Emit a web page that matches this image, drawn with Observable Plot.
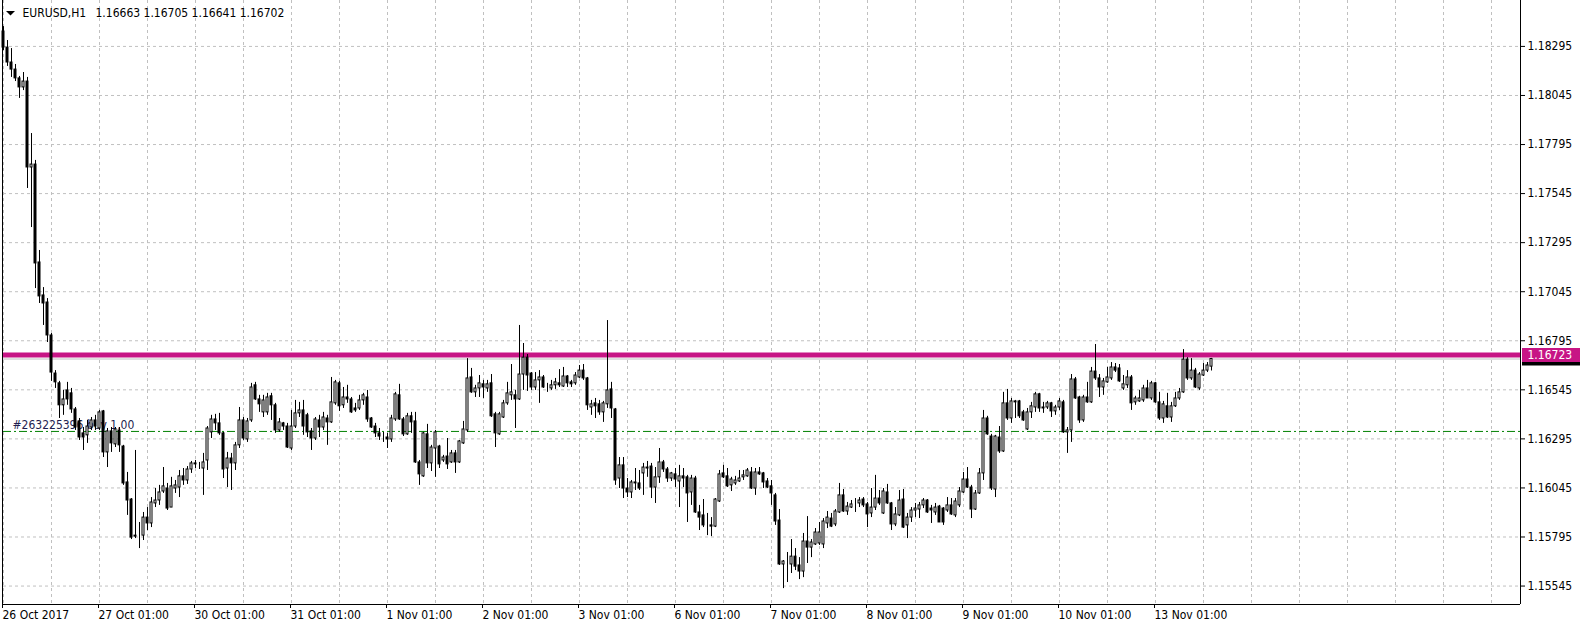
<!DOCTYPE html>
<html>
<head>
<meta charset="utf-8">
<script src="https://cdn.jsdelivr.net/npm/d3@7"></script>
<script src="https://cdn.jsdelivr.net/npm/@observablehq/plot@0.6"></script>
<style>
  html, body { margin: 0; padding: 0; background: #ffffff; }
  #chart { width: 1580px; height: 628px; overflow: hidden; }
</style>
</head>
<body>
<div id="chart"></div>
<script>
// ---- chart text ----
const symbol = "EURUSD";
const timeframe = "H1";
const orderText = "#263225396 buy 1.00";

// ---- x axis: one label every 24 hourly bars ----
const timeTickBars = [0, 24, 48, 72, 96, 120, 144, 168, 192, 216, 240, 264, 288];
const timeLabels = ["26 Oct 2017", "27 Oct 01:00", "30 Oct 01:00", "31 Oct 01:00", "1 Nov 01:00",
  "2 Nov 01:00", "3 Nov 01:00", "6 Nov 01:00", "7 Nov 01:00", "8 Nov 01:00", "9 Nov 01:00",
  "10 Nov 01:00", "13 Nov 01:00"];

// ---- y axis ticks ----
const priceTicks = [1.15545, 1.15795, 1.16045, 1.16295, 1.16545, 1.16795, 1.17045,
  1.17295, 1.17545, 1.17795, 1.18045, 1.18295];

// ---- horizontal levels ----
const levelPrice = 1.16723;   // magenta horizontal line
const orderPrice = 1.16333;   // green dash-dot order line

// ---- hourly OHLC ----
const open = [
1.18371,1.18289,1.18213,1.18177,1.18132,1.18086,1.18116,1.17678,1.17693,1.17194,
1.17026,1.16990,1.16822,1.16628,1.16578,1.16466,1.16542,1.16527,1.16445,1.16384,
1.16323,1.16313,1.16353,1.16389,1.16348,1.16435,1.16226,1.16333,1.16267,1.16338,
1.16256,1.16073,1.15986,1.15802,1.15802,1.15802,1.15894,1.15864,1.15966,1.15981,
1.16027,1.16042,1.15945,1.16042,1.16047,1.16104,1.16083,1.16139,1.16170,1.16165,
1.16144,1.16185,1.16328,1.16394,1.16374,1.16323,1.16144,1.16195,1.16170,1.16262,
1.16389,1.16292,1.16389,1.16568,1.16496,1.16430,1.16430,1.16512,1.16466,1.16338,
1.16374,1.16358,1.16246,1.16358,1.16425,1.16440,1.16415,1.16333,1.16297,1.16389,
1.16353,1.16399,1.16379,1.16476,1.16578,1.16466,1.16506,1.16496,1.16450,1.16450,
1.16491,1.16506,1.16399,1.16358,1.16323,1.16302,1.16302,1.16292,1.16394,1.16517,
1.16394,1.16318,1.16410,1.16384,1.16175,1.16104,1.16318,1.16170,1.16246,1.16256,
1.16185,1.16205,1.16175,1.16221,1.16175,1.16272,1.16338,1.16608,1.16532,1.16552,
1.16573,1.16552,1.16578,1.16420,1.16318,1.16404,1.16476,1.16517,1.16517,1.16496,
1.16623,1.16709,1.16628,1.16557,1.16593,1.16608,1.16557,1.16552,1.16568,1.16578,
1.16562,1.16613,1.16583,1.16578,1.16608,1.16643,1.16603,1.16455,1.16476,1.16471,
1.16430,1.16471,1.16547,1.16445,1.16093,1.16160,1.16042,1.16022,1.16068,1.16068,
1.16119,1.16149,1.16154,1.16047,1.16099,1.16175,1.16139,1.16093,1.16114,1.16078,
1.16104,1.16099,1.16022,1.16093,1.15920,1.15905,1.15854,1.15854,1.15848,1.15976,
1.16119,1.16104,1.16058,1.16068,1.16078,1.16099,1.16104,1.16124,1.16042,1.16124,
1.16119,1.16078,1.16053,1.16007,1.15879,1.15655,1.15660,1.15655,1.15695,1.15650,
1.15619,1.15772,1.15741,1.15757,1.15762,1.15757,1.15864,1.15889,1.15859,1.15920,
1.16007,1.15925,1.15945,1.15961,1.15966,1.15986,1.15961,1.15915,1.15945,1.15991,
1.15915,1.16022,1.15966,1.15859,1.15905,1.15986,1.15854,1.15894,1.15930,1.15935,
1.15956,1.15981,1.15940,1.15920,1.15950,1.15940,1.15930,1.15956,1.15905,1.15956,
1.16022,1.16088,1.16047,1.15935,1.16017,1.16119,1.16399,1.16307,1.16037,1.16302,
1.16231,1.16476,1.16399,1.16481,1.16486,1.16430,1.16343,1.16430,1.16455,1.16522,
1.16455,1.16455,1.16476,1.16435,1.16455,1.16481,1.16328,1.16338,1.16598,1.16506,
1.16389,1.16506,1.16481,1.16638,1.16603,1.16557,1.16583,1.16603,1.16659,1.16654,
1.16552,1.16568,1.16608,1.16481,1.16486,1.16491,1.16552,1.16501,1.16578,1.16481,
1.16399,1.16461,1.16404,1.16461,1.16501,1.16532,1.16699,1.16603,1.16643,1.16552,
1.16618,1.16643,1.16663];

const high = [
1.18396,1.18325,1.18284,1.18203,1.18142,1.18162,1.18137,1.17851,1.17714,1.17255,
1.17066,1.17010,1.16832,1.16643,1.16588,1.16542,1.16583,1.16552,1.16455,1.16399,
1.16353,1.16389,1.16404,1.16415,1.16440,1.16440,1.16348,1.16353,1.16353,1.16353,
1.16262,1.16124,1.15991,1.16236,1.15869,1.15920,1.15945,1.15996,1.16042,1.16058,
1.16149,1.16068,1.16099,1.16083,1.16134,1.16144,1.16154,1.16180,1.16185,1.16175,
1.16221,1.16358,1.16415,1.16420,1.16425,1.16328,1.16226,1.16221,1.16277,1.16455,
1.16404,1.16399,1.16578,1.16583,1.16517,1.16517,1.16527,1.16527,1.16476,1.16399,
1.16379,1.16374,1.16440,1.16491,1.16481,1.16491,1.16425,1.16348,1.16404,1.16415,
1.16430,1.16415,1.16608,1.16593,1.16588,1.16557,1.16568,1.16506,1.16476,1.16517,
1.16527,1.16542,1.16404,1.16374,1.16348,1.16328,1.16323,1.16415,1.16532,1.16573,
1.16404,1.16425,1.16430,1.16430,1.16185,1.16328,1.16369,1.16262,1.16338,1.16262,
1.16211,1.16297,1.16236,1.16236,1.16287,1.16384,1.16704,1.16654,1.16568,1.16618,
1.16593,1.16593,1.16623,1.16430,1.16430,1.16491,1.16583,1.16674,1.16542,1.16873,
1.16781,1.16725,1.16633,1.16633,1.16643,1.16618,1.16578,1.16593,1.16603,1.16648,
1.16659,1.16618,1.16593,1.16633,1.16669,1.16674,1.16608,1.16491,1.16501,1.16491,
1.16486,1.16898,1.16583,1.16450,1.16200,1.16200,1.16093,1.16083,1.16144,1.16134,
1.16170,1.16180,1.16170,1.16149,1.16246,1.16185,1.16149,1.16124,1.16144,1.16160,
1.16144,1.16109,1.16109,1.16104,1.15956,1.15986,1.15915,1.15894,1.15991,1.16134,
1.16160,1.16144,1.16099,1.16104,1.16134,1.16134,1.16144,1.16149,1.16144,1.16149,
1.16124,1.16093,1.16083,1.16017,1.15935,1.15675,1.15716,1.15782,1.15736,1.15690,
1.15813,1.15899,1.15782,1.15838,1.15869,1.15889,1.15925,1.15915,1.15935,1.16068,
1.16037,1.15971,1.15981,1.15991,1.15996,1.15996,1.15971,1.16042,1.16109,1.16032,
1.16042,1.16063,1.15971,1.15945,1.16032,1.16037,1.15915,1.15945,1.15966,1.15971,
1.15991,1.15986,1.15956,1.15966,1.15956,1.15945,1.15996,1.15991,1.15991,1.16047,
1.16124,1.16149,1.16058,1.16032,1.16144,1.16440,1.16410,1.16318,1.16313,1.16358,
1.16532,1.16547,1.16501,1.16491,1.16491,1.16440,1.16450,1.16481,1.16532,1.16527,
1.16481,1.16486,1.16481,1.16466,1.16501,1.16491,1.16353,1.16623,1.16608,1.16512,
1.16517,1.16583,1.16659,1.16776,1.16623,1.16603,1.16659,1.16684,1.16679,1.16674,
1.16618,1.16643,1.16618,1.16512,1.16542,1.16568,1.16593,1.16588,1.16583,1.16532,
1.16486,1.16527,1.16481,1.16532,1.16552,1.16750,1.16709,1.16704,1.16654,1.16633,
1.16679,1.16684,1.16705];

const low = [
1.18274,1.18193,1.18137,1.18116,1.18030,1.18070,1.17571,1.17372,1.17061,1.16985,
1.16873,1.16786,1.16588,1.16552,1.16399,1.16415,1.16466,1.16425,1.16338,1.16287,
1.16236,1.16272,1.16338,1.16338,1.16338,1.16200,1.16149,1.16226,1.16251,1.16226,
1.16058,1.15905,1.15782,1.15787,1.15736,1.15777,1.15828,1.15843,1.15945,1.15956,
1.16017,1.15930,1.15945,1.16017,1.15996,1.16058,1.16063,1.16119,1.16144,1.16139,
1.16007,1.16134,1.16297,1.16338,1.16313,1.16093,1.16047,1.16032,1.16134,1.16246,
1.16287,1.16277,1.16379,1.16491,1.16430,1.16404,1.16415,1.16389,1.16323,1.16328,
1.16338,1.16246,1.16236,1.16348,1.16404,1.16313,1.16302,1.16236,1.16287,1.16302,
1.16338,1.16262,1.16374,1.16466,1.16435,1.16450,1.16476,1.16425,1.16430,1.16440,
1.16466,1.16379,1.16348,1.16302,1.16287,1.16277,1.16246,1.16277,1.16384,1.16389,
1.16307,1.16313,1.16323,1.16170,1.16058,1.16099,1.16144,1.16129,1.16099,1.16144,
1.16175,1.16139,1.16170,1.16119,1.16170,1.16267,1.16328,1.16527,1.16506,1.16506,
1.16501,1.16532,1.16404,1.16251,1.16313,1.16399,1.16466,1.16491,1.16348,1.16491,
1.16542,1.16537,1.16542,1.16542,1.16476,1.16552,1.16532,1.16542,1.16547,1.16557,
1.16557,1.16557,1.16557,1.16568,1.16603,1.16593,1.16440,1.16415,1.16399,1.16415,
1.16379,1.16450,1.16399,1.16058,1.16042,1.15991,1.15996,1.15991,1.16032,1.16032,
1.16007,1.16099,1.15991,1.15966,1.16068,1.16124,1.16073,1.16078,1.16047,1.15945,
1.16047,1.15869,1.15956,1.15915,1.15828,1.15843,1.15802,1.15797,1.15843,1.15971,
1.16093,1.16047,1.16027,1.16058,1.16073,1.16083,1.16099,1.16037,1.16007,1.16109,
1.16042,1.16042,1.15956,1.15854,1.15650,1.15532,1.15563,1.15609,1.15624,1.15578,
1.15588,1.15660,1.15690,1.15752,1.15752,1.15736,1.15838,1.15843,1.15848,1.15915,
1.15920,1.15905,1.15940,1.15920,1.15945,1.15945,1.15843,1.15894,1.15930,1.15956,
1.15910,1.15961,1.15828,1.15848,1.15899,1.15838,1.15787,1.15869,1.15894,1.15889,
1.15940,1.15915,1.15864,1.15905,1.15869,1.15854,1.15920,1.15905,1.15894,1.15945,
1.16017,1.16042,1.15889,1.15930,1.16012,1.16083,1.16313,1.16032,1.15996,1.16221,
1.16226,1.16389,1.16374,1.16399,1.16399,1.16384,1.16338,1.16399,1.16430,1.16430,
1.16425,1.16445,1.16404,1.16415,1.16440,1.16323,1.16221,1.16277,1.16496,1.16374,
1.16379,1.16476,1.16476,1.16593,1.16506,1.16517,1.16578,1.16593,1.16633,1.16583,
1.16542,1.16552,1.16440,1.16466,1.16481,1.16481,1.16501,1.16491,1.16476,1.16389,
1.16374,1.16399,1.16379,1.16455,1.16491,1.16527,1.16593,1.16593,1.16552,1.16542,
1.16613,1.16633,1.16641];

const close = [
1.18289,1.18213,1.18177,1.18132,1.18086,1.18116,1.17678,1.17693,1.17189,1.17021,
1.16985,1.16822,1.16633,1.16583,1.16466,1.16496,1.16496,1.16445,1.16353,1.16302,
1.16302,1.16358,1.16389,1.16358,1.16430,1.16226,1.16333,1.16272,1.16343,1.16262,
1.16068,1.15981,1.15792,1.15797,1.15802,1.15894,1.15864,1.15971,1.15981,1.16022,
1.16053,1.15940,1.16053,1.16058,1.16104,1.16083,1.16139,1.16170,1.16165,1.16165,
1.16175,1.16348,1.16394,1.16374,1.16323,1.16139,1.16195,1.16170,1.16262,1.16389,
1.16297,1.16384,1.16557,1.16496,1.16471,1.16491,1.16506,1.16466,1.16338,1.16379,
1.16358,1.16251,1.16358,1.16425,1.16440,1.16358,1.16328,1.16297,1.16394,1.16353,
1.16404,1.16379,1.16481,1.16583,1.16461,1.16506,1.16496,1.16430,1.16440,1.16491,
1.16517,1.16394,1.16353,1.16323,1.16307,1.16302,1.16292,1.16399,1.16522,1.16394,
1.16318,1.16410,1.16379,1.16175,1.16114,1.16323,1.16170,1.16251,1.16328,1.16165,
1.16200,1.16165,1.16221,1.16175,1.16282,1.16343,1.16603,1.16532,1.16552,1.16578,
1.16557,1.16573,1.16410,1.16323,1.16420,1.16476,1.16527,1.16532,1.16496,1.16623,
1.16709,1.16618,1.16557,1.16593,1.16608,1.16557,1.16557,1.16568,1.16583,1.16568,
1.16613,1.16578,1.16573,1.16618,1.16643,1.16603,1.16466,1.16471,1.16461,1.16430,
1.16476,1.16542,1.16450,1.16083,1.16160,1.16042,1.16022,1.16073,1.16073,1.16042,
1.16149,1.16144,1.16047,1.16099,1.16175,1.16139,1.16093,1.16119,1.16088,1.16104,
1.16093,1.16017,1.16093,1.15920,1.15894,1.15854,1.15854,1.15848,1.15986,1.16114,
1.16099,1.16053,1.16088,1.16083,1.16093,1.16109,1.16134,1.16042,1.16124,1.16114,
1.16073,1.16047,1.16017,1.15874,1.15655,1.15670,1.15660,1.15695,1.15644,1.15619,
1.15772,1.15741,1.15767,1.15818,1.15818,1.15874,1.15894,1.15848,1.15925,1.16007,
1.15925,1.15950,1.15961,1.15961,1.15981,1.15956,1.15910,1.15945,1.15991,1.15966,
1.16027,1.15966,1.15859,1.15910,1.15981,1.15843,1.15894,1.15930,1.15940,1.15956,
1.15981,1.15920,1.15930,1.15945,1.15869,1.15869,1.15956,1.15910,1.15976,1.16027,
1.16088,1.16047,1.15935,1.16017,1.16119,1.16399,1.16318,1.16042,1.16307,1.16231,
1.16476,1.16399,1.16486,1.16486,1.16410,1.16389,1.16430,1.16461,1.16522,1.16450,
1.16450,1.16476,1.16435,1.16455,1.16486,1.16328,1.16338,1.16598,1.16501,1.16389,
1.16506,1.16481,1.16638,1.16603,1.16557,1.16588,1.16608,1.16659,1.16643,1.16588,
1.16573,1.16608,1.16476,1.16501,1.16501,1.16552,1.16501,1.16578,1.16481,1.16399,
1.16471,1.16404,1.16461,1.16501,1.16532,1.16699,1.16603,1.16643,1.16557,1.16623,
1.16643,1.16669,1.16702];

// ---- derived ----
const fmt = d3.format(".5f");
const last = close.length - 1;
const bidPrice = close[last];
const bars = open.map((o, i) => ({i, o, h: high[i], l: low[i], c: close[i]}));
const upBars = bars.filter(d => d.c >= d.o);
const downBars = bars.filter(d => d.c < d.o);
const labelByBar = new Map(timeTickBars.map((b, k) => [b, timeLabels[k]]));

const xDomain = [0, 379.25];          // visible bar slots
const yDomain = [1.15451, 1.18529];   // visible price range
const gridBars = d3.range(0, xDomain[1], 12);

const GRID = "#c0c0c0";
const MAGENTA = "#c71585";
const innerW = 1580 - 3 - 60;

const chart = Plot.plot({
  width: 1580,
  height: 628,
  marginTop: 0,
  marginBottom: 24,
  marginLeft: 3,
  marginRight: 60,
  style: {
    fontFamily: '"DejaVu Sans Condensed", "DejaVu Sans", sans-serif',
    fontSize: "12px",
    background: "#ffffff",
    color: "#000000",
    overflow: "visible"
  },
  x: {type: "linear", domain: xDomain},
  y: {type: "linear", domain: yDomain},
  marks: [
    // grid
    Plot.ruleY(priceTicks, {stroke: GRID, strokeDasharray: "3,3"}),
    Plot.ruleX(gridBars, {stroke: GRID, strokeDasharray: "3,3"}),
    // order line + label
    Plot.ruleY([orderPrice], {stroke: "#008000", strokeDasharray: "8,3,2,3"}),
    Plot.text([orderPrice], {y: d => d, text: () => orderText, frameAnchor: "left",
      dx: 9, dy: -6, textAnchor: "start", lineAnchor: "middle", fill: "#1e1e50", fontSize: 12}),
    // level line and bid line
    Plot.ruleY([levelPrice], {stroke: MAGENTA, strokeWidth: 5}),
    Plot.ruleY([bidPrice], {stroke: GRID}),
    // candles
    Plot.ruleX(bars, {x: "i", y1: "l", y2: "h", stroke: "#000"}),
    Plot.rect(upBars, {x1: d => d.i - 0.25, x2: d => d.i + 0.25, y1: "o", y2: "c", fill: "#fff", stroke: "#000"}),
    Plot.rect(downBars, {x1: d => d.i - 0.25, x2: d => d.i + 0.25, y1: "o", y2: "c", fill: "#000", stroke: "#000"}),
    // frame
    Plot.ruleX([xDomain[0]], {dx: -1, stroke: "#000"}),
    Plot.ruleX([xDomain[1]], {stroke: "#000"}),
    Plot.ruleY([yDomain[0]], {stroke: "#000"}),
    // axes
    Plot.axisY(priceTicks, {anchor: "right", tickSize: 4, tickPadding: 3, tickFormat: fmt, label: null, fontSize: 12}),
    Plot.axisX(timeTickBars, {anchor: "bottom", tickSize: 4, tickPadding: 2, tickFormat: d => labelByBar.get(d),
      textAnchor: "start", dx: -1, label: null, fontSize: 12}),
    // price labels on the right axis (bid box mostly hidden under the level label)
    Plot.ruleY([bidPrice], {stroke: "#000", strokeWidth: 13, insetLeft: innerW + 2, insetRight: -60}),
    Plot.ruleY([levelPrice], {stroke: MAGENTA, strokeWidth: 14, insetLeft: innerW + 2, insetRight: -60}),
    Plot.text([levelPrice], {y: d => d, text: d => fmt(d), frameAnchor: "right", dx: 7, textAnchor: "start", fill: "#fff", fontSize: 12}),
    // header
    Plot.text([`${symbol},${timeframe}`], {frameAnchor: "top-left", dx: 19, dy: 12.5, textAnchor: "start", lineAnchor: "middle", fill: "#000", fontSize: 12}),
    Plot.text([[open[last], high[last], low[last], close[last]].map(fmt).join(" ")], {frameAnchor: "top-left", dx: 92, dy: 12.5,
      textAnchor: "start", lineAnchor: "middle", fill: "#000", fontSize: 12})
  ]
});

// small drop-down triangle before the symbol
d3.select(chart).append("path").attr("d", "M6,11H15L10.5,15.5Z").attr("fill", "#000");

document.getElementById("chart").appendChild(chart);
</script>
</body>
</html>
